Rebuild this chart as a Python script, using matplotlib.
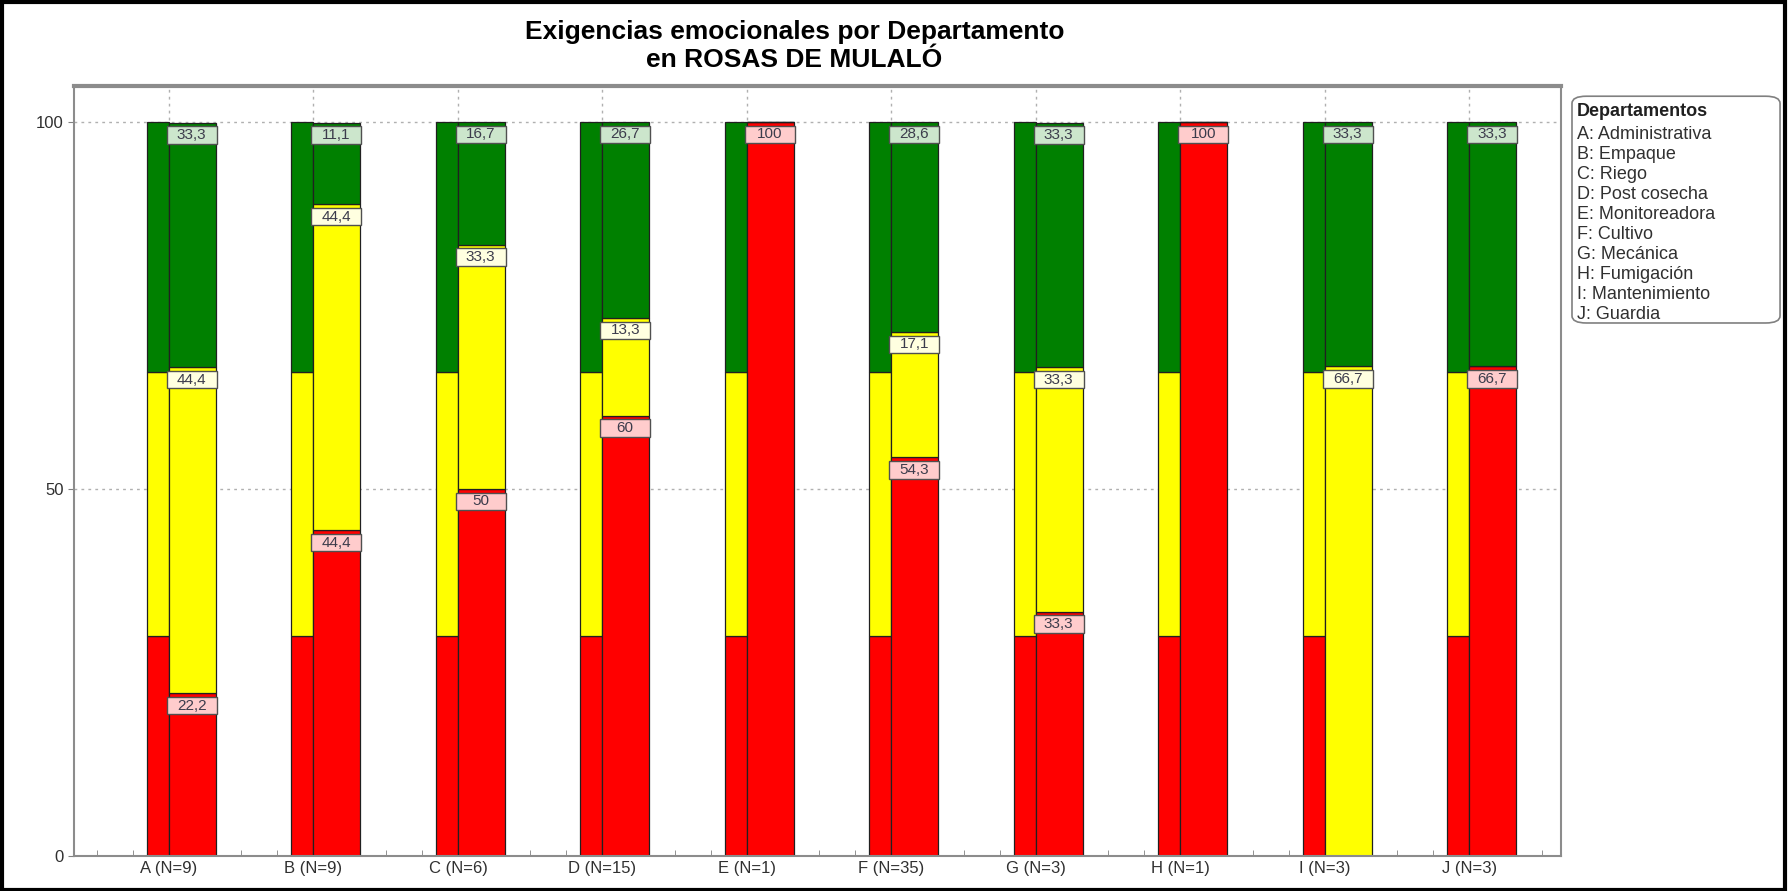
import matplotlib
matplotlib.use("Agg")
import matplotlib.pyplot as plt
from matplotlib.patches import Rectangle, FancyBboxPatch
from matplotlib.ticker import MultipleLocator
import numpy as np

plt.rcParams['font.family'] = ['Liberation Sans', 'DejaVu Sans']

# ---- data ----
categories = ["A (N=9)", "B (N=9)", "C (N=6)", "D (N=15)", "E (N=1)",
              "F (N=35)", "G (N=3)", "H (N=1)", "I (N=3)", "J (N=3)"]
red = [22.2, 44.4, 50, 60, 100, 54.3, 33.3, 100, 0, 66.7]
yellow = [44.4, 44.4, 33.3, 13.3, 0, 17.1, 33.3, 0, 66.7, 0]
green = [33.3, 11.1, 16.7, 26.7, 0, 28.6, 33.3, 0, 33.3, 33.3]

# reference population bar (same for every department)
ref_red, ref_yellow, ref_green = 30, 36, 34

legend_title = "Departamentos"
legend_items = ["A: Administrativa", "B: Empaque", "C: Riego", "D: Post cosecha",
                "E: Monitoreadora", "F: Cultivo", "G: Mecánica", "H: Fumigación",
                "I: Mantenimiento", "J: Guardia"]

RED, YEL, GRN = "#ff0000", "#ffff00", "#008000"
BOX = {RED: "#ffcccc", YEL: "#ffffe0", GRN: "#cce6cc"}


def fmt(v):
    if float(v).is_integer():
        return str(int(v))
    return f"{v:.1f}".replace(".", ",")


fig = plt.figure(figsize=(17.89, 8.91), dpi=100)
ax = fig.add_axes([0.0414, 0.0393, 0.8312, 0.8642])

x = np.arange(len(categories))
w_ref, w_dep = 0.154, 0.325

# reference bars (left, narrow)
n = len(categories)
ax.bar(x - w_ref, [ref_red] * n, w_ref, align="edge", color=RED,
       edgecolor="#202020", lw=0.9, zorder=2)
ax.bar(x - w_ref, [ref_yellow] * n, w_ref, bottom=[ref_red] * n, align="edge",
       color=YEL, edgecolor="#202020", lw=0.9, zorder=2)
ax.bar(x - w_ref, [ref_green] * n, w_ref, bottom=[ref_red + ref_yellow] * n,
       align="edge", color=GRN, edgecolor="#202020", lw=0.9, zorder=2)

# department bars
r = np.array(red)
yl = np.array(yellow)
g = np.array(green)
ax.bar(x, r, w_dep, align="edge", color=RED, edgecolor="#202020", lw=0.9, zorder=2)
ax.bar(x, yl, w_dep, bottom=r, align="edge", color=YEL, edgecolor="#202020",
       lw=0.9, zorder=2)
ax.bar(x, g, w_dep, bottom=r + yl, align="edge", color=GRN, edgecolor="#202020",
       lw=0.9, zorder=2)

# value labels at the top of each segment
box_w, box_h, gap = 0.345, 2.4, 0.5
for i in range(n):
    tops = [(r[i], r[i], RED), (yl[i], r[i] + yl[i], YEL),
            (g[i], r[i] + yl[i] + g[i], GRN)]
    for val, top, col in tops:
        if val <= 0:
            continue
        x0 = x[i] - 0.015
        y0 = top - gap - box_h
        ax.add_patch(Rectangle((x0, y0), box_w, box_h, facecolor=BOX[col],
                               edgecolor="#505050", lw=1.0, zorder=4))
        ax.text(x0 + box_w / 2, y0 + box_h / 2, fmt(val), ha="center",
                va="center", fontsize=11, color="#3c3c4c", zorder=5)

ax.set_xlim(-0.657, 9.634)
ax.set_ylim(0, 104.9)
ax.set_xticks(x)
ax.set_xticklabels(categories, fontsize=12, color="#303030")
ax.xaxis.set_minor_locator(MultipleLocator(0.25))
ax.set_yticks([0, 50, 100])
ax.set_yticklabels(["0", "50", "100"], fontsize=12, color="#303030")
ax.tick_params(axis="x", which="both", direction="in", length=4, color="#808080")
ax.tick_params(axis="y", direction="out", length=4, color="#808080")

ax.grid(True, which="major", linestyle=(0, (2, 3)), color="#b0b0b0", lw=1)
ax.set_axisbelow(True)
for side in ["left", "right", "bottom"]:
    ax.spines[side].set_color("#8c8c8c")
    ax.spines[side].set_linewidth(1.5)
ax.spines["top"].set_color("#8c8c8c")
ax.spines["top"].set_linewidth(3)

fig.suptitle("Exigencias emocionales por Departamento\nen ROSAS DE MULALÓ",
             x=0.444, y=0.978, fontsize=19, fontweight="bold", linespacing=1.25)

# legend box
fig.patches.append(FancyBboxPatch((0.8787, 0.6375), 0.1163, 0.2545,
                                  boxstyle="round,pad=0,rounding_size=0.008",
                                  transform=fig.transFigure, facecolor="white",
                                  edgecolor="#808080", lw=1.2))
fig.text(0.8815, 0.875, legend_title, fontsize=13, fontweight="bold",
         va="center", color="#202020")
for k, item in enumerate(legend_items):
    fig.text(0.8815, 0.849 - k * 0.0225, item, fontsize=13, va="center",
             color="#303030")

# outer frame
fig.patches.append(Rectangle((0.001, 0.001), 0.997, 0.997, transform=fig.transFigure,
                             fill=False, edgecolor="black", lw=3))

fig.savefig("out.png", dpi=100)
